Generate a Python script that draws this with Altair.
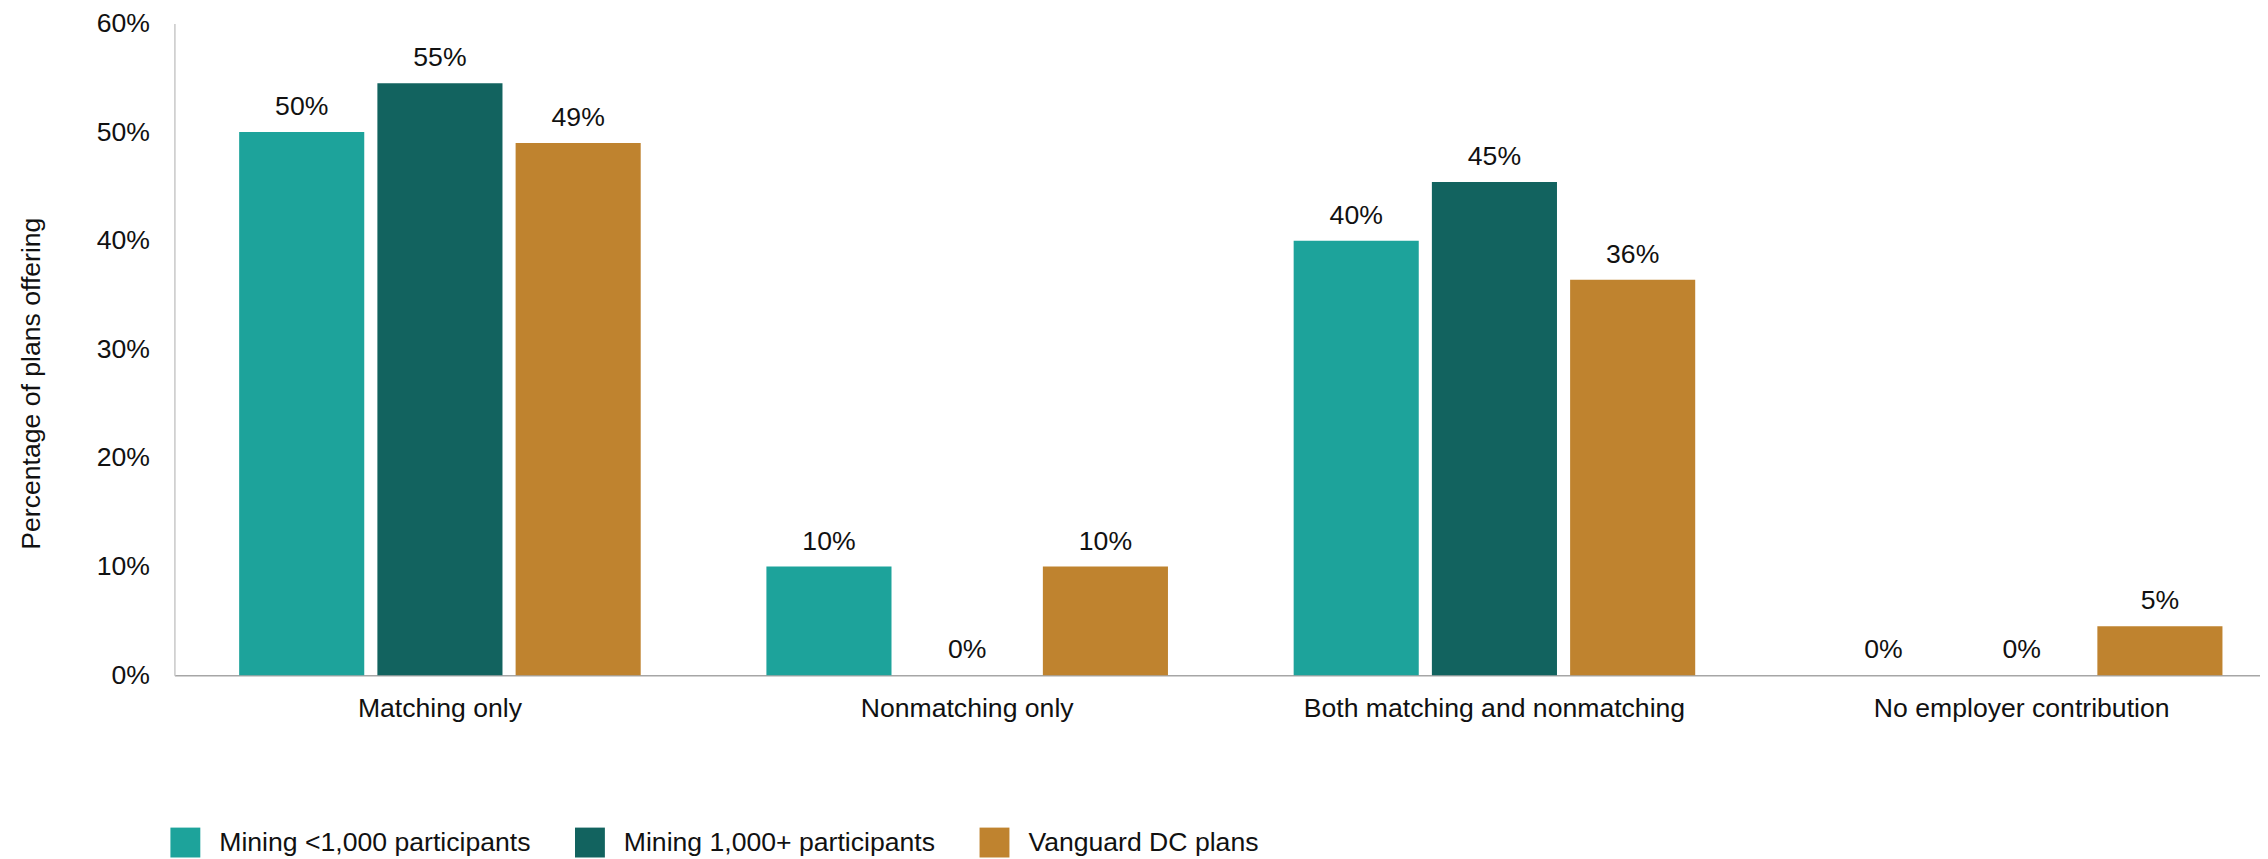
import altair as alt
import pandas as pd

categories = ["Matching only", "Nonmatching only", "Both matching and nonmatching", "No employer contribution"]
series = ["Mining <1,000 participants", "Mining 1,000+ participants", "Vanguard DC plans"]
mining_small = [50, 10, 40, 0]
mining_large = [54.5, 0, 45.4, 0]
vanguard = [49, 10, 36.4, 4.5]
labels_small = ["50%", "10%", "40%", "0%"]
labels_large = ["55%", "0%", "45%", "0%"]
labels_vanguard = ["49%", "10%", "36%", "5%"]
colors = ["#1DA39B", "#12635F", "#BF832F"]
y_ticks = [0, 10, 20, 30, 40, 50, 60]

rows = []
for s, vals, labs in zip(series, [mining_small, mining_large, vanguard],
                         [labels_small, labels_large, labels_vanguard]):
    for c, v, l in zip(categories, vals, labs):
        rows.append({"category": c, "series": s, "value": v, "label": l})
df = pd.DataFrame(rows)

FONT = "Liberation Sans"
FS = 26.7
TXT = "#111111"

base = alt.Chart(df).encode(
    x=alt.X("category:N", sort=categories,
            scale=alt.Scale(paddingInner=0.2384, paddingOuter=0.097, align=0.633),
            axis=alt.Axis(title=None, labelAngle=0, domainColor="#A6A6A6", domainWidth=1.5,
                          ticks=False, tickSize=0, labelPadding=21, labelLimit=0)),
    xOffset=alt.XOffset("series:N", sort=series,
                        scale=alt.Scale(paddingInner=0.095, paddingOuter=0)),
    y=alt.Y("value:Q", scale=alt.Scale(domain=[0, 60], nice=False),
            axis=alt.Axis(title="Percentage of plans offering", values=y_ticks,
                          labelExpr="datum.value + '%'", grid=False, ticks=False, tickSize=0,
                          domainColor="#C8C8C8", domainWidth=1.5, labelPadding=25,
                          titleAngle=270, titleAlign="center", titleBaseline="middle",
                          titleX=-143, titleY=361, titleFontWeight="normal")),
)

bars = base.mark_bar().encode(
    color=alt.Color("series:N", sort=series,
                    scale=alt.Scale(domain=series, range=colors),
                    legend=alt.Legend(title=None, orient="none", legendX=-4, legendY=807,
                                      direction="horizontal", symbolType="square",
                                      symbolSize=900, symbolStrokeWidth=0,
                                      labelFontSize=FS, labelFont=FONT, labelColor=TXT,
                                      labelOffset=19, columnPadding=44, padding=0,
                                      labelLimit=0, symbolOpacity=1, rowPadding=0))
)

text = base.mark_text(dy=-17, baseline="alphabetic", fontSize=FS, font=FONT, color=TXT).encode(
    text="label:N"
)

chart = alt.layer(bars, text).properties(
    width=2093, height=654,
    padding={"left": 167, "top": 14, "right": 0, "bottom": 183},
    autosize=alt.AutoSizeParams(type="none"),
).configure_view(stroke=None).configure_axis(
    labelFont=FONT, labelFontSize=FS, labelColor=TXT,
    titleFont=FONT, titleFontSize=FS, titleColor=TXT,
)

chart.save("out.html", embed_options={"renderer": "svg", "actions": False})
